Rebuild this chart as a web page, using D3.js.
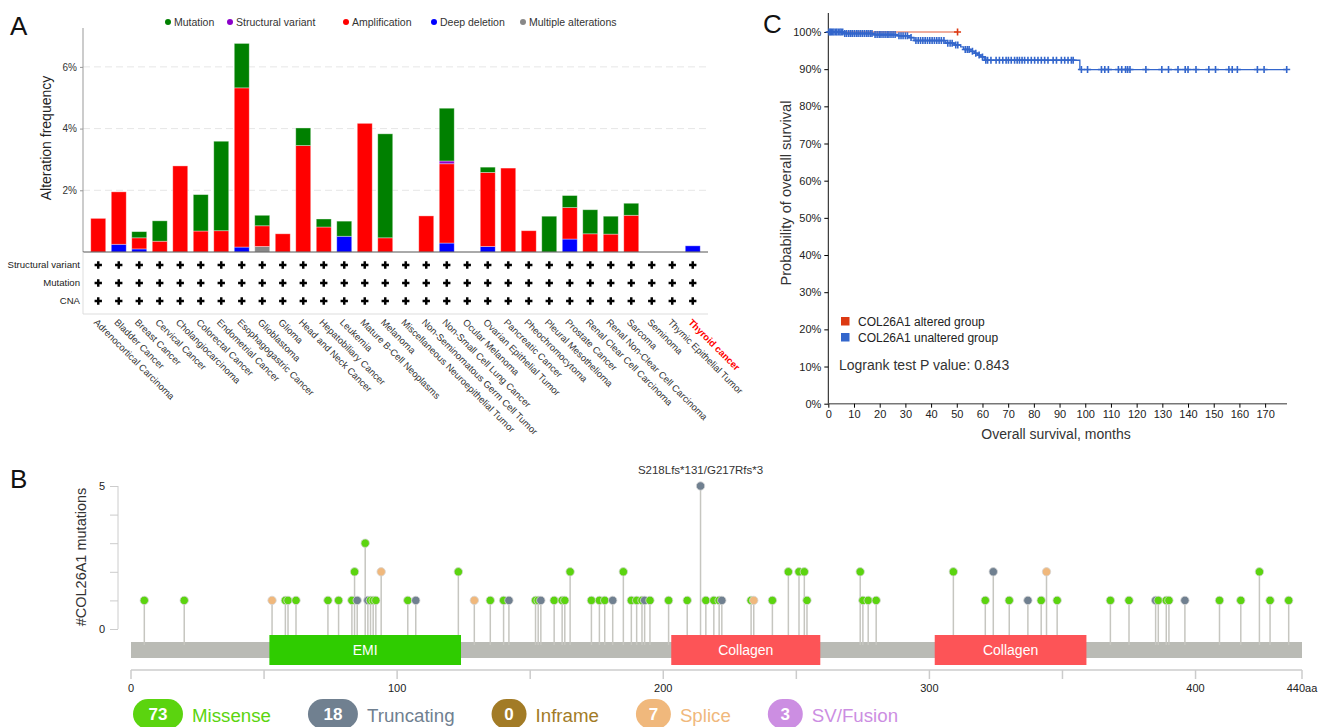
<!DOCTYPE html>
<html><head><meta charset="utf-8">
<script src="https://cdn.jsdelivr.net/npm/d3@7"></script>
<style>
body{margin:0;background:#fff;}
svg{display:block;font-family:"Liberation Sans",Arial,Helvetica,sans-serif;}
</style></head><body>
<svg id="fig" width="1328" height="727"></svg>
<script>
// ---------- Panel A: COL26A1 alteration frequency by cancer type (%) ----------
const cancerTypes = ["Adrenocortical Carcinoma","Bladder Cancer","Breast Cancer","Cervical Cancer",
  "Cholangiocarcinoma","Colorectal Cancer","Endometrial Cancer","Esophagogastric Cancer","Glioblastoma",
  "Glioma","Head and Neck Cancer","Hepatobiliary Cancer","Leukemia","Mature B-Cell Neoplasms","Melanoma",
  "Miscellaneous Neuroepithelial Tumor","Non-Seminomatous Germ Cell Tumor","Non-Small Cell Lung Cancer",
  "Ocular Melanoma","Ovarian Epithelial Tumor","Pancreatic Cancer","Pheochromocytoma","Pleural Mesothelioma",
  "Prostate Cancer","Renal Clear Cell Carcinoma","Renal Non-Clear Cell Carcinoma","Sarcoma","Seminoma",
  "Thymic Epithelial Tumor","Thyroid cancer"];
const deepDeletion      = [0,0.25,0.10,0,0,0,0,0.16,0,0,0,0,0.51,0,0,0,0,0.29,0,0.18,0,0,0,0.42,0,0,0,0,0,0.20];
const multipleAlt       = [0,0,0,0,0,0,0,0,0.18,0,0,0,0,0,0,0,0,0,0,0,0,0,0,0,0,0,0,0,0,0];
const amplification     = [1.09,1.70,0.36,0.35,2.79,0.68,0.69,5.16,0.67,0.59,3.45,0.81,0,4.17,0.46,0,1.17,2.57,0,2.40,2.72,0.69,0,1.02,0.59,0.58,1.19,0,0,0];
const structuralVariant = [0,0,0,0,0,0,0,0,0,0,0,0,0,0,0,0,0,0.09,0,0,0,0,0,0,0,0,0,0,0,0];
const mutation          = [0,0,0.20,0.66,0,1.18,2.90,1.44,0.34,0,0.57,0.26,0.49,0,3.37,0,0,1.71,0,0.17,0,0,1.16,0.39,0.78,0.58,0.39,0,0,0];
const freqTicks = [2,4,6];
const profileRows = ["Structural variant","Mutation","CNA"];
const alterationLegend = ["Mutation","Structural variant","Amplification","Deep deletion","Multiple alterations"];

// ---------- Panel B: COL26A1 lollipop (position aa, count) ----------
const missenseSites = [[5,1],[20,1],[58,1],[59,1],[62,1],[74,1],[78,1],[83,1],[84,2],[88,3],[90,1],[91,1],[92,1],
  [104,1],[123,2],[135,1],[140,1],[152,1],[153,1],[159,1],[162,1],[163,1],[165,2],[173,1],[176,1],[178,1],[185,2],
  [188,1],[190,1],[192,1],[195,1],[202,1],[209,1],[216,1],[219,1],[221,1],[233,1],[241,1],[247,2],[251,2],[253,2],
  [254,1],[274,2],[275,1],[277,1],[280,1],[309,2],[321,1],[330,1],[342,1],[348,1],[368,1],[375,1],[386,1],[389,1],
  [390,1],[409,1],[417,1],[424,2],[428,1],[435,1]];
const truncatingSites = [[85,1],[89,1],[107,1],[142,1],[154,1],[181,1],[193,1],[214,5],[222,1],[324,2],[337,1],[385,1],[396,1]];
const spliceSites = [[53,1],[94,2],[129,1],[234,1],[344,2]];
const proteinDomains = [["EMI",52,124],["Collagen",203,259],["Collagen",302,359]];
const proteinLength = 440;
const hotspotLabel = ["S218Lfs*131/G217Rfs*3",214,5];
const mutationTypes = ["Missense","Truncating","Inframe","Splice","SV/Fusion"];
const mutationTypeCounts = [73,18,0,7,3];
const aaTicks = [0,50,100,150,200,250,300,350,400,440];
const aaTickLabels = ["0","","100","","200","","300","","400","440aa"];
const mutCountTicks = [0,1,2,3,4,5];

// ---------- Panel C: Kaplan-Meier overall survival ----------
const kmGroups = ["COL26A1 altered group","COL26A1 unaltered group"];
const alteredSteps = [[0,100],[50.3,100]];
const alteredCensor = [50.3];
const unalteredSteps = [[0,100],[5.9,99.6],[17.6,99.3],[26.8,99.0],[31.5,98.5],[33.4,97.7],[45.7,97.0],[48.9,96.5],
  [51.5,96.0],[52.6,95.3],[55.5,94.8],[56.8,94.3],[58.1,93.8],[59.4,93.3],[60.7,92.4],[97.9,89.9],[178.4,89.9]];
const unalteredCensor = [0.3,0.8,1.2,1.7,2.2,2.8,3.3,3.9,4.5,5.0,5.6,6.4,7.1,7.9,8.6,9.3,10.1,10.9,11.6,12.4,13.2,14.0,
  14.8,15.5,16.3,17.0,18.2,19.0,19.8,20.5,21.3,22.1,22.9,23.6,24.4,25.2,26.0,27.5,28.3,29.1,30.0,30.8,32.2,34.1,35.0,
  35.9,36.8,37.7,38.6,39.5,40.4,41.3,42.2,43.1,44.0,45.0,46.5,47.4,48.2,49.6,50.4,53.3,54.1,54.8,56.1,57.4,58.7,60.0,
  61.3,62.0,63.3,65.3,66.6,67.9,69.2,70.1,71.2,72.5,73.5,74.4,75.4,76.4,77.7,79.0,80.3,81.6,82.9,84.2,85.5,87.5,88.8,
  90.7,92.0,93.3,94.6,95.3,98.5,100.9,106.3,107.6,109.0,112.9,114.2,115.7,116.5,117.4,123.6,129.8,132.4,136.1,138.9,
  140.0,143.1,148.1,150.7,155.9,157.2,159.2,167.0,169.6,178.4];
const monthTicks = [0,10,20,30,40,50,60,70,80,90,100,110,120,130,140,150,160,170];
const survivalTicks = [0,10,20,30,40,50,60,70,80,90,100];
const logrankText = "Logrank test P value: 0.843";

const svg = d3.select("#fig");
svg.append("rect").attr("width",1328).attr("height",727).attr("fill","#fff");

// panel letters
[["A",10,35],["B",10,488],["C",763,33]].forEach(([t,x,y]) =>
  svg.append("text").attr("x",x).attr("y",y).attr("font-size",26).attr("fill","#111").text(t));

// ================= Panel A =================
{
  const g = svg.append("g");
  const colors = {del:"#0000ff", mult:"#888888", amp:"#ff0000", sv:"#8b00c9", mut:"#008000"};
  const keys = ["del","mult","amp","sv","mut"];
  const rows = cancerTypes.map((c,i) => ({cat:c, del:deepDeletion[i], mult:multipleAlt[i], amp:amplification[i],
    sv:structuralVariant[i], mut:mutation[i]}));
  const x = d3.scaleBand().domain(cancerTypes).range([88,703]).paddingInner(0.27).paddingOuter(0.135);
  const y = d3.scaleLinear().domain([0,7.26]).range([252,28]);

  // grid
  g.selectAll(".grid").data(freqTicks).join("line")
    .attr("x1",83).attr("x2",708).attr("y1",d=>y(d)).attr("y2",d=>y(d))
    .attr("stroke","#e6e6e6").attr("stroke-dasharray","7,4");

  const stack = d3.stack().keys(keys)(rows);
  g.selectAll(".layer").data(stack).join("g").attr("fill",d=>colors[d.key])
    .selectAll("rect").data(d=>d.filter(s=>s[1]-s[0]>0)).join("rect")
    .attr("x",d=>x(d.data.cat)).attr("width",x.bandwidth())
    .attr("y",d=>y(d[1])).attr("height",d=>y(d[0])-y(d[1]))
    .attr("stroke","rgba(255,255,255,0.45)").attr("stroke-width",0.8);

  // y axis
  const ay = g.append("g").attr("transform","translate(83,0)")
    .call(d3.axisLeft(y).tickValues(freqTicks).tickSize(3).tickFormat(d=>d+"%"));
  ay.select(".domain").attr("d","M0,28V252").attr("stroke","#999");
  ay.selectAll(".tick line").attr("stroke","#999");
  ay.selectAll("text").attr("font-size",10).attr("fill","#333").attr("font-family","inherit");
  g.append("text").attr("transform","translate(51,138) rotate(-90)").attr("text-anchor","middle")
    .attr("font-size",14).attr("fill","#222").text("Alteration frequency");
  g.append("line").attr("x1",83).attr("x2",708).attr("y1",252).attr("y2",252).attr("stroke","#555");

  // profile table
  g.append("path").attr("d","M83,252V314H708").attr("fill","none").attr("stroke","#ddd");
  const rowY = [265,283,301];
  profileRows.forEach((r,ri) => {
    g.append("text").attr("x",80).attr("y",rowY[ri]).attr("dy","0.35em").attr("text-anchor","end")
      .attr("font-size",9.6).attr("fill","#222").text(r);
    g.selectAll(null).data(cancerTypes).join("path")
      .attr("transform",c=>`translate(${x(c)+x.bandwidth()/2},${rowY[ri]})`)
      .attr("d",d3.symbol(d3.symbolCross,30)).attr("fill","#000");
  });

  // category labels
  g.selectAll(".cat").data(cancerTypes).join("text")
    .attr("transform",c=>`translate(${x(c)+x.bandwidth()/2-5},323) rotate(45)`)
    .attr("font-size",9.5)
    .attr("fill",c=>c==="Thyroid cancer"?"#ff0000":"#333")
    .attr("font-weight",c=>c==="Thyroid cancer"?"bold":"normal")
    .text(c=>c);

  // legend
  const legColors = [colors.mut,colors.sv,colors.amp,colors.del,colors.mult];
  const legX = [168,230,346,434,523];
  alterationLegend.forEach((t,i) => {
    g.append("circle").attr("cx",legX[i]).attr("cy",22).attr("r",3).attr("fill",legColors[i]);
    g.append("text").attr("x",legX[i]+6).attr("y",22).attr("dy","0.35em").attr("font-size",10.5)
      .attr("fill","#333").text(t);
  });
}

// ================= Panel B =================
{
  const g = svg.append("g");
  const x = d3.scaleLinear().domain([0,proteinLength]).range([131,1302]);
  const y = d3.scaleLinear().domain([0,5]).range([629,486]);
  const colMis = "#5bd40f", colTrunc = "#708090", colSplice = "#f0b87c";

  // y axis
  const ay = g.append("g").attr("transform","translate(118,0)")
    .call(d3.axisLeft(y).tickValues(mutCountTicks).tickSize(8).tickFormat(d=>(d===0||d===5)?d:""));
  ay.select(".domain").attr("d","M0,486V629").attr("stroke","#ccc");
  ay.selectAll(".tick line").attr("stroke","#ccc");
  ay.selectAll("text").attr("font-size",11).attr("fill","#222").attr("x",-13).attr("font-family","inherit");
  g.append("text").attr("transform","translate(86,557) rotate(-90)").attr("text-anchor","middle")
    .attr("font-size",14.5).attr("fill","#333").text("#COL26A1 mutations");

  // backbone + domains
  g.append("rect").attr("x",x(0)).attr("y",642).attr("width",x(proteinLength)-x(0)).attr("height",16).attr("fill","#babbb5");

  const sites = [
    ...missenseSites.map(d=>({pos:d[0],n:d[1],c:colMis})),
    ...truncatingSites.map(d=>({pos:d[0],n:d[1],c:colTrunc})),
    ...spliceSites.map(d=>({pos:d[0],n:d[1],c:colSplice}))
  ].sort((a,b)=>a.pos-b.pos);

  g.selectAll(".stem").data(sites).join("line")
    .attr("x1",d=>x(d.pos)).attr("x2",d=>x(d.pos)).attr("y1",645).attr("y2",d=>y(d.n))
    .attr("stroke","#c6c6c0").attr("stroke-width",1.5);

  g.selectAll(".dom").data(proteinDomains).join("rect")
    .attr("x",d=>x(d[1])).attr("width",d=>x(d[2])-x(d[1])).attr("y",635).attr("height",30)
    .attr("fill",d=>d[0]==="EMI"?"#2fcc00":"#fd5457");
  g.selectAll(".domt").data(proteinDomains).join("text")
    .attr("x",d=>(x(d[1])+x(d[2]))/2).attr("y",650).attr("dy","0.35em").attr("text-anchor","middle")
    .attr("font-size",14).attr("fill","#fff").text(d=>d[0]);

  g.selectAll(".head").data(sites).join("circle")
    .attr("cx",d=>x(d.pos)).attr("cy",d=>y(d.n)).attr("r",4.2)
    .attr("fill",d=>d.c).attr("stroke","#d6d6d6").attr("stroke-width",0.8);

  g.append("text").attr("x",x(hotspotLabel[1])).attr("y",y(hotspotLabel[2])-12).attr("text-anchor","middle")
    .attr("font-size",11.5).attr("fill","#333").text(hotspotLabel[0]);

  // aa axis
  g.append("line").attr("x1",x(0)).attr("x2",x(proteinLength)).attr("y1",670).attr("y2",670).attr("stroke","#ccc").attr("stroke-width",1.5);
  g.selectAll(".aat").data(aaTicks).join("line")
    .attr("x1",d=>x(d)).attr("x2",d=>x(d)).attr("y1",670).attr("y2",679).attr("stroke","#ccc").attr("stroke-width",1.5);
  g.selectAll(".aal").data(aaTicks).join("text")
    .attr("x",d=>x(d)).attr("y",688).attr("dy","0.35em").attr("text-anchor","middle")
    .attr("font-size",11).attr("fill","#222").text((d,i)=>aaTickLabels[i]);

  // mutation type legend pills
  const pillColors = ["#5bd40f","#708090","#a27b26","#f0b87c","#cc8ee2"];
  let px = 133;
  mutationTypes.forEach((t,i) => {
    const w = String(mutationTypeCounts[i]).length > 1 ? 50 : 35;
    g.append("rect").attr("x",px).attr("y",699).attr("width",w).attr("height",30).attr("rx",15)
      .attr("fill",pillColors[i]);
    g.append("text").attr("x",px+w/2).attr("y",714).attr("dy","0.35em").attr("text-anchor","middle")
      .attr("font-size",17).attr("font-weight","bold").attr("fill","#fff").text(mutationTypeCounts[i]);
    const lab = g.append("text").attr("x",px+w+9).attr("y",715).attr("dy","0.35em")
      .attr("font-size",18.7).attr("fill",pillColors[i]).text(t);
    px = px + w + 9 + lab.node().getComputedTextLength() + 37;
  });
}

// ================= Panel C =================
{
  const g = svg.append("g");
  const x = d3.scaleLinear().domain([0,178.4]).range([828.3,1286.7]);
  const y = d3.scaleLinear().domain([0,100]).range([403.7,32]);
  const red = "#dc3912", blue = "#3366cc";

  const ay = g.append("g").attr("transform","translate(828.3,0)")
    .call(d3.axisLeft(y).tickValues(survivalTicks).tickSize(4).tickFormat(d=>d+"%"));
  ay.select(".domain").attr("d","M0,13V404").attr("stroke","#111");
  ay.selectAll("text").attr("font-size",11).attr("fill","#222").attr("font-family","inherit");
  const ax = g.append("g").attr("transform","translate(0,403.7)")
    .call(d3.axisBottom(x).tickValues(monthTicks).tickSize(4));
  ax.select(".domain").attr("d","M828.3,0H1287").attr("stroke","#777").attr("stroke-width",1.5);
  ax.selectAll("text").attr("font-size",11).attr("fill","#222").attr("font-family","inherit");

  g.append("text").attr("x",1056).attr("y",434).attr("dy","0.35em").attr("text-anchor","middle")
    .attr("font-size",14).attr("fill","#333").text("Overall survival, months");
  g.append("text").attr("transform","translate(786,193) rotate(-90)").attr("text-anchor","middle")
    .attr("dy","0.35em").attr("font-size",14.6).attr("fill","#333").text("Probability of overall survival");

  const line = d3.line().x(d=>x(d[0])).y(d=>y(d[1])).curve(d3.curveStepAfter);
  const survAt = (steps,t) => { let s = steps[0][1]; steps.forEach(p=>{ if (p[0] <= t) s = p[1]; }); return s; };
  const censorPath = "M-3.5,0H3.5M0,-3.5V3.5";

  g.append("path").attr("d",line(alteredSteps)).attr("fill","none").attr("stroke",red).attr("stroke-opacity",0.55).attr("stroke-width",1.5);
  g.append("path").attr("d",line(unalteredSteps)).attr("fill","none").attr("stroke",blue).attr("stroke-width",1.3);
  g.selectAll(".cb").data(unalteredCensor).join("path")
    .attr("transform",t=>`translate(${x(t)},${y(survAt(unalteredSteps,t))})`)
    .attr("d",censorPath).attr("stroke",blue).attr("stroke-width",1.6);
  g.selectAll(".cr").data(alteredCensor).join("path")
    .attr("transform",t=>`translate(${x(t)},${y(survAt(alteredSteps,t))})`)
    .attr("d",censorPath).attr("stroke",red).attr("stroke-width",1.6);

  [[red,317],[blue,333]].forEach(([c,yy],i) => {
    g.append("rect").attr("x",841).attr("y",yy).attr("width",8.5).attr("height",8.5).attr("fill",c);
    g.append("text").attr("x",858).attr("y",yy+4.5).attr("dy","0.35em").attr("font-size",12)
      .attr("fill","#222").text(kmGroups[i]);
  });
  g.append("text").attr("x",839).attr("y",365).attr("dy","0.35em").attr("font-size",14)
    .attr("fill","#333").text(logrankText);
}
</script>
</body></html>
